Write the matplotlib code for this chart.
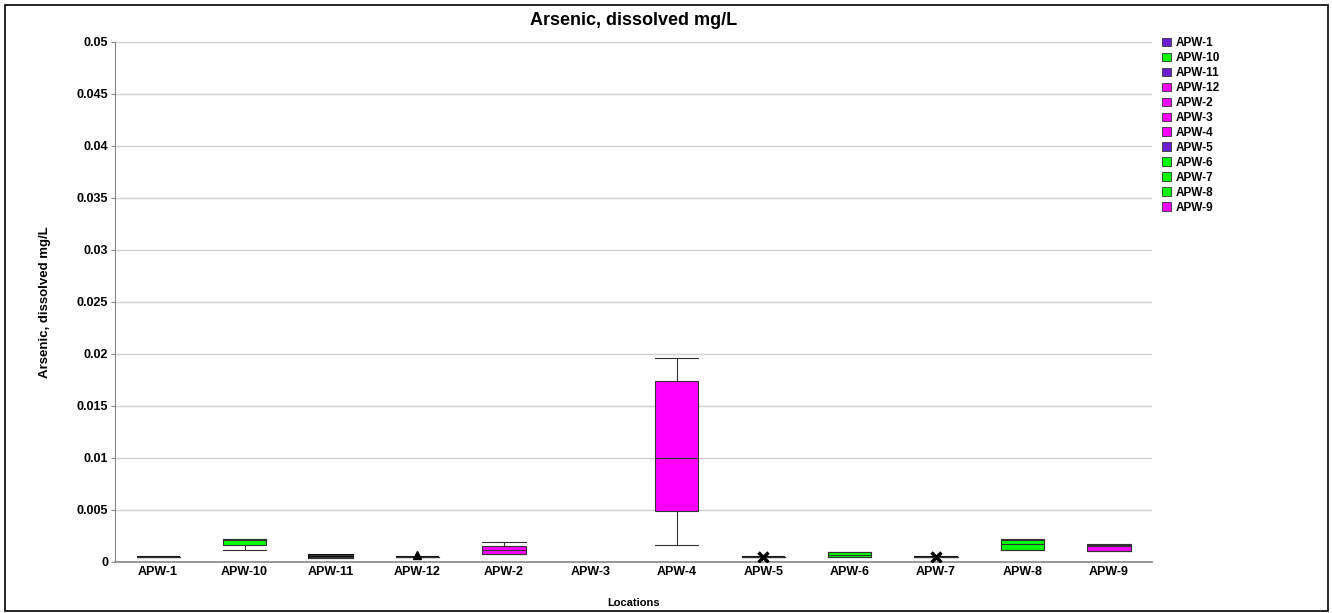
import matplotlib
matplotlib.use('Agg')
import matplotlib.pyplot as plt
from matplotlib.patches import Rectangle, Patch
import numpy as np

plt.rcParams['font.family'] = ['Liberation Sans', 'DejaVu Sans']
plt.rcParams['font.weight'] = 'bold'

# data (mg/L)
locations = ['APW-1', 'APW-10', 'APW-11', 'APW-12', 'APW-2', 'APW-3',
             'APW-4', 'APW-5', 'APW-6', 'APW-7', 'APW-8', 'APW-9']
whis_lo = [0.0005, 0.0012, 0.00036, 0.00045, 0.00074, None, 0.0016, 0.0005, 0.0005, 0.0005, 0.0012, 0.0011]
q1      = [0.0005, 0.0016, 0.00036, 0.00045, 0.00074, None, 0.0049, 0.0005, 0.0005, 0.0005, 0.0012, 0.0011]
median  = [0.0005, 0.0021, 0.0005, 0.00045, 0.0012, None, 0.0100, 0.0005, 0.0007, 0.0005, 0.0017, 0.0015]
q3      = [0.0005, 0.0022, 0.00067, 0.00045, 0.0015, None, 0.0174, 0.0005, 0.00093, 0.0005, 0.0021, 0.0016]
whis_hi = [0.0005, 0.0022, 0.00067, 0.00045, 0.0019, None, 0.0196, 0.0005, 0.00093, 0.0005, 0.0022, 0.0017]
colors = ['#6a1fd0', '#00ff00', '#6a1fd0', '#ff00ff', '#ff00ff', '#ff00ff',
          '#ff00ff', '#6a1fd0', '#00ff00', '#00ff00', '#00ff00', '#ff00ff']
# single-point markers
mark_loc = ['APW-12', 'APW-5', 'APW-7']
mark_val = [0.00065, 0.00045, 0.00045]
mark_sym = ['^', 'x', 'x']

yticks = np.arange(0, 0.0501, 0.005)
ytick_labels = ['0', '0.005', '0.01', '0.015', '0.02', '0.025', '0.03',
                '0.035', '0.04', '0.045', '0.05']

fig = plt.figure(figsize=(13.32, 6.13), dpi=100)
ax = fig.add_axes([0.0863, 0.0832, 0.7787, 0.8483])

stats = []
pos = []
cols = []
for i, loc in enumerate(locations):
    if median[i] is None:
        continue
    stats.append(dict(label=loc, whislo=whis_lo[i], q1=q1[i], med=median[i],
                      q3=q3[i], whishi=whis_hi[i], fliers=[]))
    pos.append(i)
    cols.append(colors[i])

bp = ax.bxp(stats, positions=pos, widths=0.5, capwidths=0.5, patch_artist=True,
            boxprops=dict(edgecolor='#333333', linewidth=0.8),
            medianprops=dict(color='#333333', linewidth=0.8),
            whiskerprops=dict(color='#333333', linewidth=0.8),
            capprops=dict(color='#333333', linewidth=0.8), zorder=3)
for patch, c in zip(bp['boxes'], cols):
    patch.set_facecolor(c)
# very flat boxes show as dark lines
for i, patch in enumerate(bp['boxes']):
    s = stats[i]
    if s['q3'] - s['q1'] < 0.0004:
        patch.set_facecolor('#111111')
        patch.set_edgecolor('#111111')
        patch.set_linewidth(1.5)

for loc, v, m in zip(mark_loc, mark_val, mark_sym):
    x = locations.index(loc)
    ax.plot(x, v, marker=m, color='black', markersize=7 if m == 'x' else 6,
            markeredgewidth=2.5 if m == 'x' else 1, linestyle='none', zorder=4)

ax.set_xlim(-0.5, len(locations) - 0.5)
ax.set_ylim(0, 0.05)
ax.set_xticks(range(len(locations)))
ax.set_xticklabels(locations, fontsize=9, fontweight='bold')
ax.set_yticks(yticks)
ax.set_yticklabels(ytick_labels, fontsize=9, fontweight='bold')
ax.tick_params(axis='x', length=0, pad=3)
ax.tick_params(axis='y', length=3, color='#888888', pad=2)
ax.grid(axis='y', color='#d0d0d0', linewidth=1)
ax.set_axisbelow(True)
for sp in ['top', 'right']:
    ax.spines[sp].set_visible(False)
ax.spines['left'].set_color('#888888')
ax.spines['bottom'].set_color('#888888')
ax.spines['bottom'].set_linewidth(1.2)

ax.set_title('Arsenic, dissolved mg/L', fontsize=13, fontweight='bold', pad=12)
ax.set_ylabel('Arsenic, dissolved mg/L', fontsize=9.5, fontweight='bold', labelpad=18)
ax.set_xlabel('Locations', fontsize=8, fontweight='bold', labelpad=14)

handles = [Patch(facecolor=c, edgecolor='#333333', linewidth=0.6) for c in colors]
fig.legend(handles, locations, loc='upper left', bbox_to_anchor=(0.869, 0.947),
           frameon=False, fontsize=8.5, handlelength=0.75, handleheight=0.75,
           handletextpad=0.4, labelspacing=0.25, borderaxespad=0)

fig.patches.append(Rectangle((0.004, 0.004), 0.993, 0.988, transform=fig.transFigure,
                             fill=False, edgecolor='black', linewidth=1.2))

plt.savefig('out.png', dpi=100)
